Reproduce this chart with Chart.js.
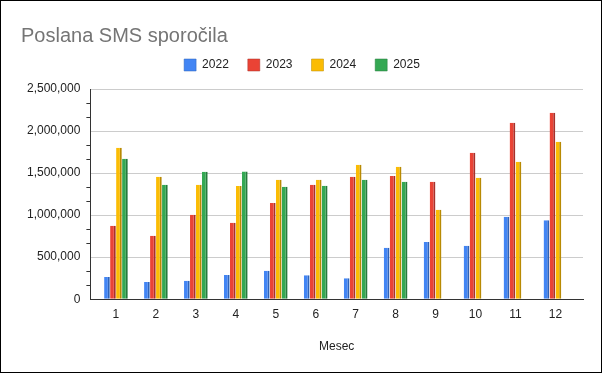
<!DOCTYPE html>
<html lang="sl">
<head>
    <meta charset="UTF-8">
    <title>Poslana SMS sporočila</title>
    <script src="https://cdn.jsdelivr.net/npm/chart.js"></script>
    <style>
        body { margin: 0; background: #fff; }
        #wrap { width: 602px; height: 373px; box-sizing: border-box; border: 1px solid #000; }
    </style>
</head>
<body>
    <div id="wrap"><canvas id="smsChart"></canvas></div>

    <script>
        // data
        const months = [1, 2, 3, 4, 5, 6, 7, 8, 9, 10, 11, 12];
        const years = ['2022', '2023', '2024', '2025'];
        const sms2022 = [265000, 206000, 218000, 289000, 337000, 286000, 250000, 611000, 680000, 635000, 980000, 940000];
        const sms2023 = [873000, 754000, 1004000, 908000, 1143000, 1361000, 1456000, 1464000, 1396000, 1742000, 2099000, 2218000];
        const sms2024 = [1801000, 1456000, 1361000, 1345000, 1420000, 1420000, 1599000, 1575000, 1063000, 1444000, 1635000, 1873000];
        const sms2025 = [1670000, 1361000, 1516000, 1520000, 1337000, 1349000, 1420000, 1396000, null, null, null, null];

        const colors = ['#4285f4', '#ea4335', '#fbbc04', '#34a853'];
        const sideColors = ['#2f63b8', '#a8302a', '#b88a03', '#257a3c'];

        Chart.defaults.font.family = '"Liberation Sans", Arial, sans-serif';
        Chart.defaults.color = '#222';

        let series = [sms2022, sms2023, sms2024, sms2025];
        let datasets = series.map((vals, i) => ({
            label: years[i],
            data: months.map((m, j) => ({ x: m, y: vals[j] })),
            backgroundColor: colors[i],
            borderColor: sideColors[i],
            borderWidth: { right: 2, top: 0, left: 0, bottom: 0 },
            borderSkipped: false,
            categoryPercentage: 0.6,
            barPercentage: 0.95
        }));

        // a bit more room under the legend
        const legendGap = {
            id: 'legendGap',
            beforeInit(chart) {
                let fit = chart.legend.fit;
                chart.legend.fit = function () {
                    fit.bind(chart.legend)();
                    this.height += 8;
                };
            }
        };

        let ctx = document.getElementById('smsChart').getContext('2d');

        new Chart(ctx, {
            type: 'bar',
            data: { datasets: datasets },
            plugins: [legendGap],
            options: {
                responsive: true,
                maintainAspectRatio: false,
                animation: false,
                layout: { padding: { left: 20, right: 18, top: 8, bottom: 14 } },
                plugins: {
                    title: {
                        display: true,
                        text: 'Poslana SMS sporočila',
                        align: 'start',
                        color: '#757575',
                        font: { size: 20, weight: 'normal' },
                        padding: { top: 15, bottom: -8 }
                    },
                    legend: {
                        display: true,
                        labels: {
                            boxWidth: 12,
                            boxHeight: 12,
                            padding: 19,
                            font: { size: 12 },
                            color: '#222'
                        }
                    },
                    tooltip: { enabled: false }
                },
                scales: {
                    x: {
                        type: 'linear',
                        min: 0.36,
                        max: 12.69,
                        offset: false,
                        afterBuildTicks: (axis) => {
                            axis.ticks = months.map(m => ({ value: m }));
                        },
                        grid: { display: false, drawTicks: false },
                        border: { color: '#333', width: 1 },
                        ticks: { autoSkip: false, maxRotation: 0, padding: 8, font: { size: 12 }, color: '#222', callback: (v) => String(v) },
                        title: { display: true, text: 'Mesec', font: { size: 12 }, color: '#222', padding: { top: 10 } }
                    },
                    y: {
                        min: 0,
                        max: 2500000,
                        afterBuildTicks: (axis) => {
                            let t = [];
                            for (let k = 0; k <= 15; k++) t.push({ value: k * 500000 / 3 });
                            axis.ticks = t;
                        },
                        border: { color: '#333', width: 1 },
                        grid: {
                            color: (c) => (c.tick && Math.round(c.tick.value) % 500000 === 0 && c.tick.value > 0) ? '#cccccc' : 'rgba(0,0,0,0)',
                            tickColor: (c) => (c.tick && Math.round(c.tick.value) % 500000 !== 0) ? '#333' : 'rgba(0,0,0,0)',
                            tickLength: 4
                        },
                        ticks: {
                            autoSkip: false,
                            padding: 6,
                            font: { size: 12 },
                            color: '#222',
                            callback: (v) => {
                                let r = Math.round(v);
                                return r % 500000 === 0 ? r.toLocaleString('en-US') : '';
                            }
                        }
                    }
                }
            }
        });
    </script>
</body>
</html>
